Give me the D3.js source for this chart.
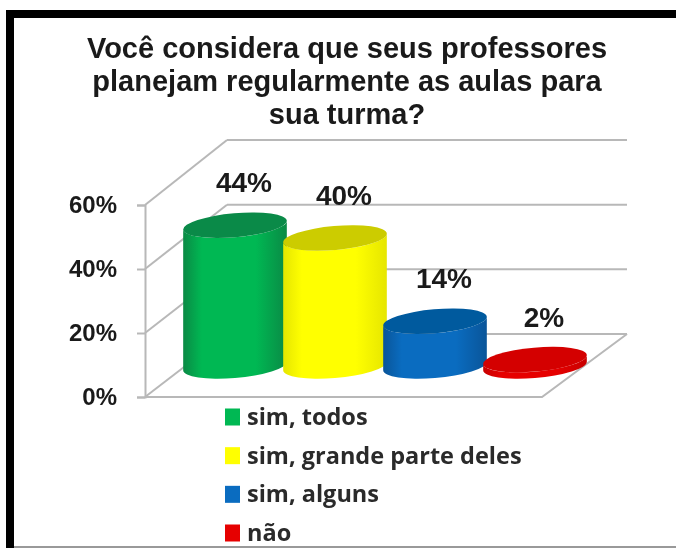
<!DOCTYPE html>
<html>
<head>
<meta charset="utf-8">
<script src="https://cdn.jsdelivr.net/npm/d3@7"></script>
<style>
    html, body { margin: 0; padding: 0; background: #fff; }
    svg { display: block; filter: blur(0.7px); }
</style>
</head>
<body>
<div id="grafico"></div>
<script>
const titulo = ["Você considera que seus professores", "planejam regularmente as aulas para", "sua turma?"];
const categorias = ["sim, todos", "sim, grande parte deles", "sim, alguns", "não"];
const valores = [44, 40, 14, 2];
const marcas = [0, 20, 40, 60];
const coresLateral = ["#00b853", "#ffff00", "#0a6cc0", "#e60000"];
const coresBorda = ["#0a8a45", "#e6e600", "#0a5599", "#c80000"];
const coresTopo = ["#0a8a48", "#cccc00", "#005a9e", "#d40000"];

const ancho = 676, alto = 548;
const svg = d3.select("#grafico").append("svg").attr("width", ancho).attr("height", alto);

// moldura
svg.append("rect").attr("width", ancho).attr("height", alto).attr("fill", "#fff");
svg.append("rect").attr("x", 6).attr("y", 10).attr("width", 670).attr("height", 8).attr("fill", "#000");
svg.append("rect").attr("x", 6).attr("y", 10).attr("width", 8).attr("height", 538).attr("fill", "#000");
svg.append("rect").attr("x", 14).attr("y", 546).attr("width", 662).attr("height", 2).attr("fill", "#999");

// titulo
svg.append("g").selectAll("text").data(titulo).enter().append("text")
    .attr("x", 347)
    .attr("y", (d, i) => 58 + i * 33)
    .attr("text-anchor", "middle")
    .attr("font-family", "Liberation Sans")
    .attr("font-weight", "bold")
    .attr("font-size", 29)
    .attr("fill", "#1a1a1a")
    .text(d => d);

// escalas: parede da frente, parede do fundo e altura dos cilindros
const yFrente = d3.scaleLinear().domain([0, 60]).range([397, 205]);
const yFundo = d3.scaleLinear().domain([0, 60]).range([334, 140]);
const yCil = d3.scaleLinear().domain([0, 60]).range([366, 174]);
const x = d3.scaleBand().domain(categorias).range([185, 585]);

const cinza = "#b8b8b8";
const grade = svg.append("g").attr("stroke", cinza).attr("stroke-width", 2).attr("fill", "none");

// linhas de grade do fundo e diagonais da parede
grade.selectAll("line.fundo").data(marcas).enter().append("line")
    .attr("class", "fundo")
    .attr("x1", 227).attr("x2", 627)
    .attr("y1", d => yFundo(d)).attr("y2", d => yFundo(d));
grade.selectAll("line.diag").data(marcas).enter().append("line")
    .attr("class", "diag")
    .attr("x1", 145).attr("x2", 227)
    .attr("y1", d => yFrente(d)).attr("y2", d => yFundo(d));

// piso
grade.append("path")
    .attr("d", `M145,${yFrente(0)}L542,${yFrente(0)}L627,${yFundo(0)}`);

// eixo
const eixo = d3.axisLeft(yFrente).tickValues(marcas).tickFormat(d => d + "%").tickSize(8).tickPadding(20);
const gEixo = svg.append("g").attr("transform", "translate(145,0)").call(eixo);
gEixo.selectAll("path, line").attr("stroke", cinza).attr("stroke-width", 2);
gEixo.selectAll("text")
    .attr("font-family", "Liberation Sans")
    .attr("font-weight", "bold")
    .attr("font-size", 24)
    .attr("fill", "#1a1a1a");

// gradientes dos cilindros
const defs = svg.append("defs");
categorias.forEach((c, i) => {
    const g = defs.append("linearGradient").attr("id", "lat" + i);
    g.append("stop").attr("offset", "0%").attr("stop-color", coresBorda[i]);
    g.append("stop").attr("offset", "18%").attr("stop-color", coresLateral[i]);
    g.append("stop").attr("offset", "70%").attr("stop-color", coresLateral[i]);
    g.append("stop").attr("offset", "100%").attr("stop-color", coresBorda[i]);
});

// cilindros
const rx = 52, ry = 12, giro = -5;
const rad = giro * Math.PI / 180;
const tt = Math.atan(-(ry / rx) * Math.tan(rad));
const dx = rx * Math.cos(tt) * Math.cos(rad) - ry * Math.sin(tt) * Math.sin(rad);
const dy = rx * Math.cos(tt) * Math.sin(rad) + ry * Math.sin(tt) * Math.cos(rad);

function corpo(cx, yBase, yTopo) {
    return `M${cx - dx},${yBase - dy}` +
        `A${rx},${ry} ${giro} 0 0 ${cx + dx},${yBase + dy}` +
        `L${cx + dx},${yTopo + dy}` +
        `A${rx},${ry} ${giro} 0 1 ${cx - dx},${yTopo - dy}Z`;
}

const dados = d3.zip(categorias, valores);
const cil = svg.append("g").selectAll("g").data(dados).enter().append("g");
cil.append("path")
    .attr("d", d => corpo(x(d[0]) + x.bandwidth() / 2, yCil(0), yCil(d[1])))
    .attr("fill", (d, i) => `url(#lat${i})`);
cil.append("ellipse")
    .attr("rx", rx).attr("ry", ry)
    .attr("transform", d => `translate(${x(d[0]) + x.bandwidth() / 2},${yCil(d[1])}) rotate(${giro})`)
    .attr("fill", (d, i) => coresTopo[i]);

// rotulos de valor
cil.append("text")
    .attr("x", d => x(d[0]) + x.bandwidth() / 2 + 9)
    .attr("y", d => yCil(d[1]) - 33)
    .attr("text-anchor", "middle")
    .attr("font-family", "Liberation Sans")
    .attr("font-weight", "bold")
    .attr("font-size", 28)
    .attr("fill", "#1a1a1a")
    .text(d => d[1] + "%");

// legenda
const yLegenda = d3.scalePoint().domain(categorias).range([417, 533]);
const leg = svg.append("g").selectAll("g").data(categorias).enter().append("g")
    .attr("transform", d => `translate(225,${yLegenda(d)})`);
leg.append("rect")
    .attr("y", -8.5).attr("width", 15).attr("height", 17)
    .attr("fill", (d, i) => coresLateral[i]);
leg.append("text")
    .attr("x", 22).attr("y", 8)
    .attr("font-family", "Open Sans")
    .attr("font-weight", "bold")
    .attr("font-size", 23.5)
    .attr("fill", "#2a2a2a")
    .text(d => d);
</script>
</body>
</html>
